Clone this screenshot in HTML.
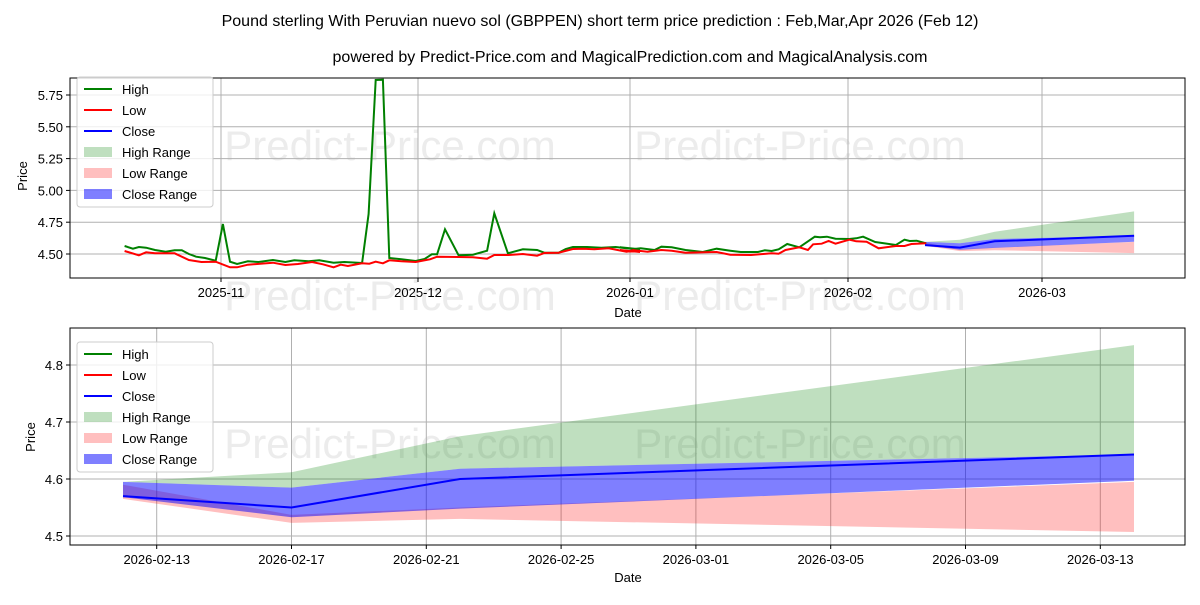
<!DOCTYPE html>
<html><head><meta charset="utf-8"><style>
body{margin:0;background:#fff;}
svg text{font-family:"Liberation Sans","DejaVu Sans",sans-serif;}
</style></head><body>
<svg id="s" width="1200" height="600" xmlns="http://www.w3.org/2000/svg">
<rect width="1200" height="600" fill="#fff"/>
<text x="600" y="26" font-size="16" text-anchor="middle">Pound sterling With Peruvian nuevo sol (GBPPEN) short term price prediction : Feb,Mar,Apr 2026 (Feb 12)</text>
<text x="630" y="62" font-size="16" text-anchor="middle">powered by Predict-Price.com and MagicalPrediction.com and MagicalAnalysis.com</text>
<g id="gtop"></g><g id="gbot"></g>
</svg>
<script>
(function(){
const NS="http://www.w3.org/2000/svg";
function el(p,t,a,txt){const e=document.createElementNS(NS,t);for(const k in a)e.setAttribute(k,a[k]);if(txt!==undefined)e.textContent=txt;p.appendChild(e);return e;}
const gT=document.getElementById('gtop'),gB=document.getElementById('gbot');
const T={l:70,r:1185,t:78,b:278}, B={l:70,r:1185,t:328,b:545};
const ty=v=>254-(v-4.5)*127.2;
const by=v=>536-(v-4.5)*570;
const bx=d=>123+(d)*33.7;
const fd=[0,5,10,30];
const cl=[4.57,4.55,4.60,4.643];
const hT=[4.595,4.612,4.675,4.835];
const cT=[4.595,4.585,4.618,4.643];
const cB=[4.568,4.533,4.548,4.597];
const lT=[4.59,4.537,4.55,4.595];
const lB=[4.565,4.523,4.53,4.507];
function poly(xs,ys){return xs.map((x,i)=>x.toFixed(1)+','+ys[i].toFixed(1)).join(' ');}
function band(g,X,Y,top_,bot_,col){
  const xs=fd.map(X);
  const pts=poly(xs,top_.map(Y))+' '+poly(xs.slice().reverse(),bot_.map(Y).reverse());
  el(g,'polygon',{points:pts,fill:col});
}
function grid(g,A,xs,ys){
  xs.forEach(x=>el(g,'line',{x1:x,x2:x,y1:A.t,y2:A.b,stroke:'#b0b0b0','stroke-width':1}));
  ys.forEach(y=>el(g,'line',{x1:A.l,x2:A.r,y1:y,y2:y,stroke:'#b0b0b0','stroke-width':1}));
}
function frame(g,A){el(g,'rect',{x:A.l,y:A.t,width:A.r-A.l,height:A.b-A.t,fill:'none',stroke:'#000','stroke-width':1});}
function wm(g,y1,y2){
  const c='#ececec';
  el(g,'text',{x:390,y:y1,'font-size':42,fill:c,'text-anchor':'middle'},'Predict-Price.com');
  el(g,'text',{x:800,y:y1,'font-size':42,fill:c,'text-anchor':'middle'},'Predict-Price.com');
  if(y2){el(g,'text',{x:390,y:y2,'font-size':42,fill:c,'text-anchor':'middle'},'Predict-Price.com');
  el(g,'text',{x:800,y:y2,'font-size':42,fill:c,'text-anchor':'middle'},'Predict-Price.com');}
}
function legend(g,x,y){
  el(g,'rect',{x:x,y:y,width:136,height:130,rx:3,fill:'#fff','fill-opacity':0.8,stroke:'#ccc'});
  const it=[['High','#008000','l'],['Low','#ff0000','l'],['Close','#0000ff','l'],['High Range','rgba(0,128,0,0.25)','r'],['Low Range','rgba(255,0,0,0.25)','r'],['Close Range','rgba(0,0,255,0.5)','r']];
  it.forEach((d,i)=>{const yy=y+12+i*21;
    if(d[2]=='l')el(g,'line',{x1:x+7,x2:x+35,y1:yy,y2:yy,stroke:d[1],'stroke-width':2});
    else el(g,'rect',{x:x+7,y:yy-5,width:28,height:10,fill:d[1]});
    el(g,'text',{x:x+45,y:yy+5,'font-size':13},d[0]);});
}
wm(gT,160,310);
const txs=[221,418,630,848,1042];
grid(gT,T,txs,[254,222.2,190.4,158.6,126.8,95]);
function cv(arr,ox,oy,sx,sy){return arr.map(p=>[ox+p[0]/sx,oy+p[1]/sy]);}
const h1=[[125,558],[148,566],[165,561],[185,563],[210,570],[240,575],[265,571],[285,571],[305,582],[325,590],[350,594],[380,602],[400,492],[420,605],[440,612],[470,604],[500,606],[540,600],[575,606],[600,601],[640,604],[670,601],[710,608],[740,606],[790,609],[808,462],[828,60],[848,59],[866,594],[900,598],[940,603],[965,597],[985,583],[1000,583],[1022,508],[1060,586],[1100,584],[1140,572],[1160,460],[1198,580],[1240,568],[1280,570],[1300,578],[1340,578],[1360,567],[1380,561],[1420,561],[1460,563],[1500,561],[1530,565],[1568,568]];
const h2=[[0,262],[40,267],[60,265],[100,270],[120,260],[150,262],[190,270],[240,276],[280,266],[320,272],[350,276],[400,276],[420,271],[440,273],[460,268],[485,252],[520,262],[565,230],[580,232],[600,230],[625,236],[665,237],[685,235],[705,230],[740,246],[800,255],[825,239],[840,243],[860,242],[888,250]];
const l1=[[125,573],[165,586],[185,577],[210,580],[265,580],[305,600],[340,606],[380,605],[420,622],[440,622],[470,614],[540,608],[575,615],[610,612],[650,606],[680,613],[710,622],[730,614],[750,618],[790,610],[810,611],[828,605],[848,610],[866,601],[900,604],[940,606],[980,598],[1000,590],[1060,591],[1100,592],[1140,596],[1160,585],[1200,585],[1240,582],[1280,587],[1300,579],[1340,578],[1380,567],[1410,566],[1440,568],[1480,565],[1530,575],[1550,570],[1568,576]];
const l2=[[0,270],[20,275],[40,271],[80,275],[120,270],[150,272],[190,278],[280,276],[320,284],[380,285],[440,280],[460,281],[480,270],[520,262],[545,270],[560,253],[585,251],[605,243],[625,251],[665,239],[685,244],[715,245],[750,265],[800,258],[825,258],[845,252],[888,250]];
const H=cv(h1,80,60,2.8,3).concat(cv(h2,620,160,2.9,3));
const L=cv(l1,80,60,2.8,3).concat(cv(l2,620,160,2.9,3));
const txf=d=>925+d*6.97;
band(gT,txf,ty,hT,cT,'rgba(0,128,0,0.25)');
band(gT,txf,ty,lT,lB,'rgba(255,0,0,0.25)');
band(gT,txf,ty,cT,cB,'rgba(0,0,255,0.5)');
el(gT,'polyline',{points:H.map(p=>p[0].toFixed(1)+','+p[1].toFixed(1)).join(' '),fill:'none',stroke:'#008000','stroke-width':2});
el(gT,'polyline',{points:L.map(p=>p[0].toFixed(1)+','+p[1].toFixed(1)).join(' '),fill:'none',stroke:'#ff0000','stroke-width':2});
el(gT,'polyline',{points:poly(fd.map(txf),cl.map(ty)),fill:'none',stroke:'#0000ff','stroke-width':2});
frame(gT,T);
['4.50','4.75','5.00','5.25','5.50','5.75'].forEach((t,i)=>{const y=254-i*31.8;el(gT,'line',{x1:T.l-4,x2:T.l,y1:y,y2:y,stroke:'#000'});el(gT,'text',{x:T.l-7,y:y+5,'font-size':13,'text-anchor':'end'},t);});
['2025-11','2025-12','2026-01','2026-02','2026-03'].forEach((t,i)=>{const x=txs[i];el(gT,'line',{x1:x,x2:x,y1:T.b,y2:T.b+4,stroke:'#000'});el(gT,'text',{x:x,y:T.b+19,'font-size':13,'text-anchor':'middle'},t);});
el(gT,'text',{x:628,y:317,'font-size':13,'text-anchor':'middle'},'Date');
el(gT,'text',{x:27,y:176,'font-size':13,'text-anchor':'middle',transform:'rotate(-90 27 176)'},'Price');
legend(gT,77,77);
wm(gB,458,0);
const bxs=[1,5,9,13,17,21,25,29].map(d=>bx(d));
grid(gB,B,bxs,[536,479,422,365]);
band(gB,bx,by,hT,cT,'rgba(0,128,0,0.25)');
band(gB,bx,by,lT,lB,'rgba(255,0,0,0.25)');
band(gB,bx,by,cT,cB,'rgba(0,0,255,0.5)');
el(gB,'polyline',{points:poly(fd.map(bx),cl.map(by)),fill:'none',stroke:'#0000ff','stroke-width':2});
frame(gB,B);
['4.5','4.6','4.7','4.8'].forEach((t,i)=>{const y=536-i*57;el(gB,'line',{x1:B.l-4,x2:B.l,y1:y,y2:y,stroke:'#000'});el(gB,'text',{x:B.l-7,y:y+5,'font-size':13,'text-anchor':'end'},t);});
['2026-02-13','2026-02-17','2026-02-21','2026-02-25','2026-03-01','2026-03-05','2026-03-09','2026-03-13'].forEach((t,i)=>{const x=bxs[i];el(gB,'line',{x1:x,x2:x,y1:B.b,y2:B.b+4,stroke:'#000'});el(gB,'text',{x:x,y:B.b+19,'font-size':13,'text-anchor':'middle'},t);});
el(gB,'text',{x:628,y:582,'font-size':13,'text-anchor':'middle'},'Date');
el(gB,'text',{x:35,y:437,'font-size':13,'text-anchor':'middle',transform:'rotate(-90 35 437)'},'Price');
legend(gB,77,342);
})();
</script>
</body></html>
